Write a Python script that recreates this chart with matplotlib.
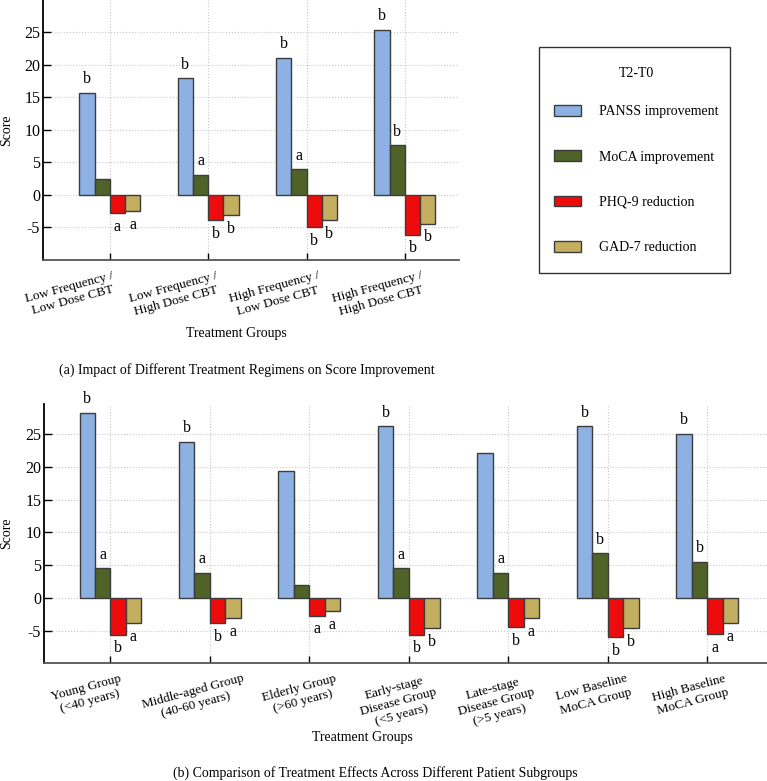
import matplotlib
matplotlib.use("Agg")
import matplotlib.pyplot as plt
from matplotlib.patches import Patch, Rectangle
import numpy as np

plt.rcParams['font.family'] = ['Liberation Serif', 'DejaVu Serif']
plt.rcParams['font.size'] = 10
plt.rcParams['axes.unicode_minus'] = False

# data
series = ['PANSS improvement', 'MoCA improvement', 'PHQ-9 reduction', 'GAD-7 reduction']
colors = ['#8eb1e3', '#4f6228', '#ee0b0b', '#c4ae60']

groups_a = ['Low Frequency /\nLow Dose CBT', 'Low Frequency /\nHigh Dose CBT',
            'High Frequency /\nLow Dose CBT', 'High Frequency /\nHigh Dose CBT']
panss_a = [15.7, 17.9, 21.0, 25.3]
moca_a = [2.4, 3.1, 3.9, 7.6]
phq_a = [-2.8, -3.9, -5.0, -6.1]
gad_a = [-2.5, -3.1, -3.9, -4.4]
letters_a = [['b', 'b', 'b', 'b'],
             ['', 'a', 'a', 'b'],
             ['a', 'b', 'b', 'b'],
             ['a', 'b', 'b', 'b']]

groups_b = ['Young Group\n(<40 years)', 'Middle-aged Group\n(40-60 years)',
            'Elderly Group\n(>60 years)', 'Early-stage\nDisease Group\n(<5 years)',
            'Late-stage\nDisease Group\n(>5 years)', 'Low Baseline\nMoCA Group',
            'High Baseline\nMoCA Group']
panss_b = [28.2, 23.8, 19.4, 26.2, 22.1, 26.2, 25.0]
moca_b = [4.5, 3.8, 1.9, 4.5, 3.8, 6.8, 5.5]
phq_b = [-5.6, -3.9, -2.7, -5.6, -4.5, -6.0, -5.5]
gad_b = [-3.9, -3.1, -2.0, -4.6, -3.1, -4.6, -3.9]
letters_b = [['b', 'b', '', 'b', '', 'b', 'b'],
             ['a', 'a', '', 'a', 'a', 'b', 'b'],
             ['b', 'b', 'a', 'b', 'b', 'b', 'a'],
             ['a', 'a', 'a', 'b', 'a', 'b', 'a']]

# label shifts (px) so the tick labels sit as in the original
shift_a = [2, 7, 11, 16]
shift_b = [9, 32, 25, 22, 21, 18, 17]

W, H = 767, 781
fig = plt.figure(figsize=(W / 100, H / 100), dpi=100)


def px_axes(l, t, r, b):
    return fig.add_axes([l / W, 1 - b / H, (r - l) / W, (b - t) / H])


def draw(ax, groups, vals, letters, xlim, ylim, shifts):
    x = np.arange(len(groups))
    w = 0.155
    for k, v in enumerate(vals):
        pos = x + (k - 1.5) * w
        ax.bar(pos, v, w, color=colors[k], edgecolor='#3c3c3c', linewidth=1.0,
               label=series[k], zorder=3)
        for p, val, lt in zip(pos, v, letters[k]):
            if lt:
                off = 2.1 if val > 0 else -2.1
                ax.text(p, val + off, lt, ha='center', va='center', fontsize=11.5, zorder=4)
    ax.set_xlim(*xlim)
    ax.set_ylim(*ylim)
    ax.set_yticks([-5, 0, 5, 10, 15, 20, 25])
    ax.set_xticks(x)
    ax.set_xticklabels([''] * len(groups))
    for xi, g, dx in zip(x, groups, shifts):
        ax.annotate(g, xy=(xi, 0), xycoords=('data', 'axes fraction'),
                    xytext=(dx * 0.72, -7), textcoords='offset points',
                    rotation=15, rotation_mode='anchor', ha='right', va='top',
                    multialignment='center', fontsize=9.5, annotation_clip=False)
    ax.grid(True, linestyle=':', color='#c8c8c8', linewidth=0.8)
    ax.set_axisbelow(True)
    for s in ['top', 'right']:
        ax.spines[s].set_visible(False)
    ax.spines['left'].set_linewidth(1.3)
    ax.spines['bottom'].set_linewidth(1.3)
    ax.spines['bottom'].set_color('#555555')
    ax.tick_params(axis='y', direction='in', length=6, width=1, pad=2, labelsize=11.5)
    ax.tick_params(axis='x', direction='in', length=5, width=1)
    ax.set_ylabel('Score', fontsize=10)


ax1 = px_axes(43, 0, 459, 260)
draw(ax1, groups_a, [panss_a, moca_a, phq_a, gad_a], letters_a,
     (-0.68, 3.55), (-10, 29.9), shift_a)
ax1.set_xlabel('Treatment Groups', fontsize=10)
ax1.xaxis.set_label_coords((236.7 - 43) / 416, -(334 - 260) / 260)
ax1.yaxis.set_label_coords((6.3 - 43) / 416, 0.5)

ax2 = px_axes(44, 404, 767, 663)
draw(ax2, groups_b, [panss_b, moca_b, phq_b, gad_b], letters_b,
     (-0.667, 6.6), (-9.95, 29.6), shift_b)
ax2.set_xlabel('Treatment Groups', fontsize=10)
ax2.xaxis.set_label_coords((362.7 - 44) / 723, -(737 - 663) / 259)
ax2.yaxis.set_label_coords((6.3 - 44) / 723, 0.5)
for ax in (ax1, ax2):
    ax.xaxis.label.set_va('center')
    ax.yaxis.label.set_va('center')

fig.text(247 / W, 1 - 370 / H, '(a) Impact of Different Treatment Regimens on Score Improvement',
         ha='center', va='center', fontsize=10)
fig.text(375 / W, 1 - 773 / H, '(b) Comparison of Treatment Effects Across Different Patient Subgroups',
         ha='center', va='center', fontsize=10)

# legend box
fig.patches.append(Rectangle((539 / W, 1 - 273 / H), 191 / W, 226 / H, transform=fig.transFigure,
                             fill=False, edgecolor='#333333', linewidth=1.0))
handles = [Patch(facecolor=c, edgecolor='#3c3c3c', label=s) for c, s in zip(colors, series)]
leg = fig.legend(handles=handles, title='T2-T0', loc='upper left',
                 bbox_to_anchor=(543 / W, 1 - 56 / H), frameon=False, fontsize=10,
                 title_fontsize=10, handlelength=1.95, handleheight=0.8,
                 handletextpad=1.3, labelspacing=2.32, borderpad=0.3)
leg._legend_box.sep = 18

fig.savefig('out.png', dpi=100)
